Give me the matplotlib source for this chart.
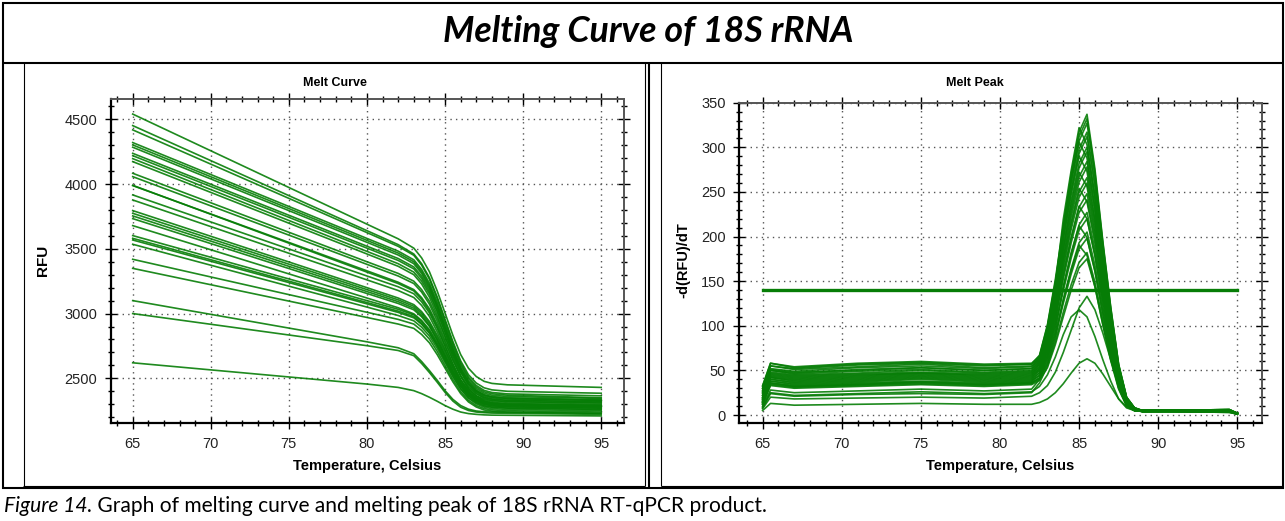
import matplotlib
matplotlib.use("Agg")
import matplotlib.pyplot as plt
from matplotlib.lines import Line2D
from matplotlib.ticker import MultipleLocator
import numpy as np

# ---------------- data ----------------
main_title = "Melting Curve of 18S rRNA"
caption_italic = "Figure 14."
caption_rest = " Graph of melting curve and melting peak of 18S rRNA RT-qPCR product."
left_title = "Melt Curve"
right_title = "Melt Peak"
x_label = "Temperature, Celsius"
left_ylabel = "RFU"
right_ylabel = "-d(RFU)/dT"

x_ticks = [65, 70, 75, 80, 85, 90, 95]
curve_yticks = [2500, 3000, 3500, 4000, 4500]
peak_yticks = [0, 50, 100, 150, 200, 250, 300, 350]

melt_temps = [65, 80, 82, 83, 83.5, 84, 84.5, 85, 85.5, 86, 86.5, 87, 87.5, 88, 89, 95]
melt_rfu = [
    [4540, 3690, 3577, 3505, 3430, 3323, 3174, 3004, 2833, 2684, 2578, 2514, 2477, 2461, 2450, 2430],
    [4451, 3640, 3532, 3460, 3385, 3277, 3128, 2956, 2785, 2635, 2528, 2464, 2427, 2411, 2400, 2385],
    [4418, 3625, 3519, 3450, 3374, 3266, 3114, 2942, 2769, 2618, 2510, 2445, 2407, 2391, 2380, 2365],
    [4320, 3580, 3482, 3415, 3341, 3235, 3087, 2919, 2750, 2602, 2497, 2433, 2396, 2381, 2370, 2350],
    [4302, 3565, 3467, 3400, 3325, 3218, 3069, 2899, 2728, 2579, 2473, 2409, 2372, 2356, 2345, 2330],
    [4284, 3550, 3452, 3385, 3310, 3203, 3054, 2884, 2713, 2564, 2458, 2394, 2357, 2341, 2330, 2320],
    [4237, 3520, 3425, 3360, 3289, 3188, 3047, 2885, 2724, 2582, 2481, 2421, 2385, 2370, 2360, 2345],
    [4219, 3505, 3410, 3345, 3272, 3169, 3024, 2858, 2693, 2548, 2444, 2382, 2346, 2330, 2320, 2310],
    [4196, 3480, 3385, 3320, 3251, 3152, 3013, 2855, 2696, 2558, 2459, 2399, 2365, 2350, 2340, 2330],
    [4173, 3460, 3365, 3300, 3229, 3128, 2987, 2825, 2664, 2522, 2421, 2361, 2325, 2310, 2300, 2290],
    [4083, 3400, 3310, 3250, 3185, 3095, 2967, 2822, 2677, 2550, 2459, 2404, 2373, 2359, 2350, 2335],
    [4057, 3380, 3290, 3232, 3166, 3073, 2942, 2794, 2645, 2515, 2422, 2366, 2333, 2319, 2310, 2300],
    [3988, 3330, 3242, 3185, 3123, 3037, 2916, 2778, 2640, 2520, 2433, 2382, 2352, 2339, 2330, 2320],
    [3990, 3320, 3232, 3175, 3111, 3021, 2897, 2754, 2611, 2486, 2397, 2344, 2312, 2299, 2290, 2280],
    [3916, 3290, 3207, 3153, 3091, 3005, 2885, 2747, 2610, 2489, 2403, 2352, 2322, 2309, 2300, 2290],
    [3877, 3260, 3178, 3124, 3063, 2978, 2859, 2723, 2586, 2467, 2382, 2331, 2301, 2289, 2280, 2270],
    [3795, 3200, 3120, 3069, 3015, 2939, 2833, 2713, 2592, 2486, 2411, 2365, 2339, 2328, 2320, 2310],
    [3774, 3185, 3106, 3056, 3001, 2925, 2818, 2696, 2574, 2468, 2391, 2346, 2319, 2308, 2300, 2290],
    [3754, 3170, 3092, 3042, 2986, 2908, 2799, 2675, 2550, 2441, 2363, 2317, 2289, 2278, 2270, 2260],
    [3733, 3155, 3078, 3029, 2975, 2901, 2797, 2677, 2558, 2454, 2379, 2335, 2309, 2297, 2290, 2280],
    [3679, 3120, 3045, 2998, 2947, 2876, 2778, 2666, 2553, 2455, 2384, 2342, 2318, 2307, 2300, 2290],
    [3602, 3100, 3033, 2990, 2938, 2866, 2766, 2652, 2537, 2437, 2366, 2323, 2298, 2287, 2280, 2270],
    [3581, 3085, 3019, 2977, 2924, 2852, 2751, 2635, 2520, 2419, 2347, 2303, 2278, 2267, 2260, 2250],
    [3568, 3075, 3009, 2967, 2917, 2849, 2754, 2645, 2536, 2440, 2372, 2331, 2307, 2297, 2290, 2280],
    [3535, 3050, 2985, 2944, 2895, 2827, 2732, 2623, 2514, 2419, 2351, 2311, 2287, 2277, 2270, 2260],
    [3419, 3010, 2955, 2919, 2870, 2803, 2708, 2600, 2493, 2398, 2331, 2290, 2267, 2257, 2250, 2240],
    [3349, 2970, 2919, 2886, 2839, 2774, 2683, 2579, 2474, 2383, 2318, 2279, 2256, 2247, 2240, 2230],
    [3100, 2782, 2736, 2690, 2630, 2560, 2485, 2405, 2338, 2290, 2262, 2248, 2242, 2240, 2238, 2230],
    [3000, 2752, 2715, 2675, 2615, 2545, 2470, 2392, 2325, 2277, 2252, 2240, 2235, 2232, 2230, 2222],
    [2620, 2456, 2430, 2405, 2382, 2354, 2323, 2290, 2262, 2240, 2228, 2222, 2218, 2216, 2215, 2210],
]

peak_temps = [65, 65.5, 67, 71, 75, 79, 82, 82.5, 83, 83.5, 84, 84.5, 85, 85.5,
              86, 86.5, 87, 87.5, 88, 88.5, 89, 94.5, 95]
peak_values = [
    [30, 55, 52, 56, 58, 55, 57, 67, 101, 152, 212, 270, 317, 337, 276, 195, 121, 57, 20, 8, 5, 5, 2],
    [32, 58, 54, 58, 60, 57, 58, 66, 100, 149, 209, 266, 312, 332, 272, 193, 120, 56, 20, 8, 5, 6, 1],
    [28, 52, 49, 53, 55, 52, 54, 65, 98, 147, 206, 262, 307, 327, 268, 190, 118, 56, 20, 8, 5, 4, 2],
    [26, 50, 47, 51, 53, 50, 52, 64, 97, 145, 219, 274, 322, 303, 245, 171, 103, 48, 16, 7, 5, 5, 1],
    [33, 58, 53, 57, 59, 56, 57, 63, 95, 143, 200, 254, 298, 317, 260, 184, 114, 54, 19, 8, 5, 6, 2],
    [24, 50, 46, 49, 51, 48, 50, 62, 94, 140, 197, 250, 293, 312, 256, 181, 112, 53, 19, 8, 4, 4, 1],
    [30, 55, 51, 54, 57, 53, 55, 61, 92, 138, 208, 260, 306, 288, 233, 162, 98, 46, 15, 6, 5, 5, 2],
    [22, 47, 44, 46, 48, 46, 48, 60, 90, 135, 189, 240, 282, 300, 246, 174, 108, 51, 18, 7, 5, 4, 1],
    [27, 51, 48, 50, 53, 50, 52, 59, 89, 133, 186, 236, 277, 295, 242, 171, 106, 50, 18, 7, 4, 5, 2],
    [20, 45, 42, 44, 47, 44, 46, 58, 87, 131, 197, 247, 290, 273, 220, 154, 93, 44, 15, 6, 5, 6, 1],
    [25, 48, 45, 47, 50, 47, 49, 57, 85, 128, 179, 227, 267, 284, 233, 165, 102, 48, 17, 7, 5, 4, 2],
    [18, 43, 40, 42, 45, 42, 44, 56, 83, 125, 175, 222, 261, 278, 228, 161, 100, 47, 17, 7, 4, 5, 1],
    [22, 46, 43, 45, 47, 45, 47, 54, 82, 122, 185, 231, 272, 256, 207, 144, 87, 41, 14, 6, 5, 5, 2],
    [18, 42, 38, 40, 43, 40, 42, 53, 80, 120, 168, 213, 250, 266, 218, 154, 96, 45, 16, 7, 4, 4, 1],
    [20, 44, 41, 43, 46, 43, 45, 52, 78, 117, 164, 208, 244, 260, 213, 151, 94, 44, 16, 7, 5, 6, 2],
    [16, 40, 36, 38, 41, 38, 40, 51, 76, 114, 173, 216, 254, 239, 193, 135, 81, 38, 13, 6, 4, 5, 1],
    [19, 42, 39, 41, 44, 41, 43, 50, 74, 112, 156, 198, 233, 248, 203, 144, 89, 42, 15, 6, 5, 4, 2],
    [15, 38, 34, 36, 38, 36, 38, 48, 72, 108, 152, 193, 227, 241, 198, 140, 87, 41, 14, 6, 4, 5, 1],
    [17, 40, 37, 39, 42, 39, 41, 47, 70, 105, 159, 199, 234, 220, 178, 124, 75, 35, 12, 5, 5, 6, 2],
    [14, 36, 33, 35, 37, 35, 37, 45, 68, 102, 143, 182, 213, 227, 186, 132, 82, 39, 14, 6, 4, 4, 1],
    [15, 38, 35, 37, 40, 37, 39, 44, 66, 99, 139, 176, 207, 220, 180, 128, 79, 37, 13, 6, 5, 5, 2],
    [13, 35, 32, 34, 36, 34, 36, 42, 64, 95, 144, 180, 212, 199, 161, 112, 68, 32, 11, 5, 4, 5, 1],
    [12, 34, 31, 33, 35, 33, 35, 41, 62, 92, 129, 164, 193, 205, 168, 119, 74, 35, 12, 5, 5, 4, 2],
    [10, 28, 25, 27, 29, 27, 29, 40, 59, 89, 125, 158, 186, 198, 162, 115, 71, 34, 12, 5, 4, 5, 1],
    [14, 36, 32, 34, 37, 34, 36, 41, 57, 86, 129, 162, 190, 179, 144, 101, 61, 29, 10, 5, 5, 6, 2],
    [8, 24, 21, 23, 24, 23, 25, 36, 55, 82, 115, 146, 171, 182, 149, 106, 66, 31, 11, 5, 4, 4, 1],
    [12, 33, 30, 32, 34, 32, 34, 39, 53, 79, 110, 140, 165, 175, 144, 102, 63, 30, 11, 5, 5, 5, 2],
    [7, 20, 18, 19, 20, 19, 21, 25, 33, 48, 70, 95, 120, 133, 118, 92, 62, 34, 14, 6, 4, 3, 1],
    [9, 25, 22, 24, 26, 24, 26, 32, 45, 65, 90, 110, 118, 110, 88, 62, 38, 18, 8, 5, 4, 3, 1],
    [5, 13, 11, 12, 13, 12, 12, 14, 18, 25, 35, 47, 58, 63, 58, 46, 32, 18, 9, 5, 4, 3, 1],
]
threshold_temps = [65, 95]
threshold_level = [140, 140]

# ---------------- layout ----------------
W, H = 1285, 521
fig = plt.figure(figsize=(W / 100, H / 100), dpi=100)
fig.patch.set_facecolor("white")

def fx(px):
    return px / W

def fy(py):
    return 1 - py / H

def hline(x0, x1, y, lw):
    fig.add_artist(Line2D([fx(x0), fx(x1)], [fy(y), fy(y)], transform=fig.transFigure,
                          color="black", lw=lw, solid_capstyle="butt"))

def vline(x, y0, y1, lw):
    fig.add_artist(Line2D([fx(x), fx(x)], [fy(y0), fy(y1)], transform=fig.transFigure,
                          color="black", lw=lw, solid_capstyle="butt"))

# table borders
T = 1.5
hline(2, 1284, 2.5, T)
hline(2, 1284, 63.5, T)
hline(2, 1284, 488, T)
vline(3, 2, 489, T)
vline(1283, 2, 489, T)
vline(649, 63, 489, T)
# chart image frames
t = 0.8
vline(23.5, 63, 486, t); vline(645, 63, 486, t); hline(23, 645, 485.5, t)
vline(661.5, 63, 486, t); hline(661, 1283, 485.5, t)

GREEN = "#067d06"
TICKC = "#222222"
FONT = ["Liberation Sans", "DejaVu Sans"]

def style_axes(ax, xlim, ylim, ymaj, ymin_step):
    ax.set_xlim(*xlim)
    ax.set_ylim(*ylim)
    ax.set_xticks(x_ticks)
    ax.set_yticks(ymaj)
    ax.xaxis.set_minor_locator(MultipleLocator(1))
    ax.yaxis.set_minor_locator(MultipleLocator(ymin_step))
    ax.tick_params(which="major", direction="inout", length=8, width=1, color="black",
                   top=True, right=True, labelsize=10.5, labelcolor=TICKC, pad=6)
    ax.tick_params(which="minor", direction="inout", length=5, width=1, color="black",
                   top=True, right=True)
    for lab in ax.get_xticklabels() + ax.get_yticklabels():
        lab.set_family(FONT)
    ax.grid(True, which="major", color="#555555", lw=1.0, linestyle=(0, (1, 3)))
    ax.set_axisbelow(True)
    for s in ["left", "bottom"]:
        ax.spines[s].set_linewidth(1.6)
        ax.spines[s].set_color("black")
    for s in ["top", "right"]:
        ax.spines[s].set_linewidth(1.4)
        ax.spines[s].set_color("#555555")

# left axes
axL = fig.add_axes([fx(111), fy(423.3), (624 - 111) / W, (423.3 - 99.3) / H])
for row in melt_rfu:
    axL.plot(melt_temps, row, color=GREEN, lw=1.2, alpha=0.9)
style_axes(axL, (63.61, 96.46), (2153, 4654), curve_yticks, 100)

# right axes
axR = fig.add_axes([fx(739.5), fy(423.3), (1262 - 739.5) / W, (423.3 - 102.7) / H])
for row in peak_values:
    axR.plot(peak_temps, row, color=GREEN, lw=1.2, alpha=0.9)
axR.plot(threshold_temps, threshold_level, color=GREEN, lw=2.4)
style_axes(axR, (63.54, 96.56), (-9.3, 350), peak_yticks, 10)

# chart texts
fig.text(fx(335), fy(83), left_title, ha="center", va="center", fontsize=9,
         fontweight="bold", family=FONT)
fig.text(fx(975), fy(83), right_title, ha="center", va="center", fontsize=9,
         fontweight="bold", family=FONT)
fig.text(fx(43), fy(260), left_ylabel, ha="center", va="center", rotation=90,
         fontsize=11, fontweight="bold", family=FONT)
fig.text(fx(683), fy(260), right_ylabel, ha="center", va="center", rotation=90,
         fontsize=10.5, fontweight="bold", family=FONT)
fig.text(fx(367), fy(466), x_label, ha="center", va="center", fontsize=10.5,
         fontweight="bold", family=FONT)
fig.text(fx(1000), fy(466), x_label, ha="center", va="center", fontsize=10.5,
         fontweight="bold", family=FONT)

# title and caption, sized to match target widths
TF = ["Lato", "DejaVu Sans"]
title = fig.text(fx(648), fy(31), main_title, ha="center", va="center", fontsize=20,
                 fontweight="bold", style="italic", family=TF)
cap1 = fig.text(fx(4), fy(506), caption_italic, ha="left", va="center", fontsize=14,
                style="italic", family=TF)
cap2 = fig.text(fx(4), fy(506), caption_rest, ha="left", va="center", fontsize=14,
                family=TF)

fig.canvas.draw()
r = fig.canvas.get_renderer()
wt = title.get_window_extent(r).width
title.set_fontsize(20 * 410.0 / wt)
w1 = cap1.get_window_extent(r).width
w2 = cap2.get_window_extent(r).width
scale = 769.0 / (w1 + w2)
cap1.set_fontsize(14 * scale)
cap2.set_fontsize(14 * scale)
fig.canvas.draw()
w1 = cap1.get_window_extent(r).width
cap2.set_position((fx(4 + w1), fy(506)))

fig.savefig("out.png", dpi=100)
